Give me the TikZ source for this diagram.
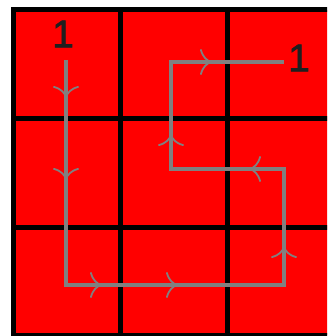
\documentclass[tikz,border=0pt]{standalone}
\usepackage{fontspec}
\setmainfont{Liberation Sans}
\newfontfamily\labelfont[FakeBold=1.6]{Liberation Sans}
\usetikzlibrary{decorations.markings,arrows.meta}
\definecolor{cellred}{RGB}{255,0,0}
\definecolor{pathgray}{RGB}{128,128,128}
\begin{document}
\begin{tikzpicture}[x=1pt,y=-1pt,
  gridline/.style={line width=5pt,black},
  route/.style={line width=4.6pt,pathgray,line join=miter},
  label1/.style={inner sep=0pt,font=\labelfont\fontsize{39}{39}\selectfont,text=black!88},
  flowmarks/.style={postaction={decorate},decoration={markings,
    mark=at position 38pt with {\arrow{To[length=12pt,width=26pt,line width=1.8pt]}},
    mark=at position 120pt with {\arrow{To[length=12pt,width=26pt,line width=1.8pt]}},
    mark=at position 261pt with {\arrow{To[length=12pt,width=26pt,line width=1.8pt]}},
    mark=at position 337pt with {\arrow{To[length=12pt,width=26pt,line width=1.8pt]}},
    mark=at position 482pt with {\arrow{To[length=12pt,width=26pt,line width=1.8pt]}},
    mark=at position 594pt with {\arrow{To[length=12pt,width=26pt,line width=1.8pt]}},
    mark=at position 707pt with {\arrow{To[length=12pt,width=26pt,line width=1.8pt]}},
    mark=at position 820pt with {\arrow{To[length=12pt,width=26pt,line width=1.8pt]}}}}]
\useasboundingbox (0,0) rectangle (327,336);
\begin{scope}
\clip (0,0) rectangle (327,336);
\fill[cellred] (13,10) rectangle (334,335);
\foreach \x in {120,227} \draw[gridline] (\x,10) -- (\x,335);
\foreach \y in {119,227} \draw[gridline] (13,\y) -- (334,\y);
\draw[gridline] (13,10) rectangle (334,335);
\end{scope}
\coordinate (p0) at (66,60);
\coordinate (p1) at (66,285);
\coordinate (p2) at (284,285);
\coordinate (p3) at (284,169);
\coordinate (p4) at (171,169);
\coordinate (p5) at (171,62);
\coordinate (p6) at (284,62);
\draw[route,flowmarks] (p0) -- (p1) -- (p2) -- (p3) -- (p4) -- (p5) -- (p6);
\node[label1] (startlabel) at (63,34) {1};
\node[label1] (endlabel) at (299,58) {1};
\end{tikzpicture}
\end{document}
